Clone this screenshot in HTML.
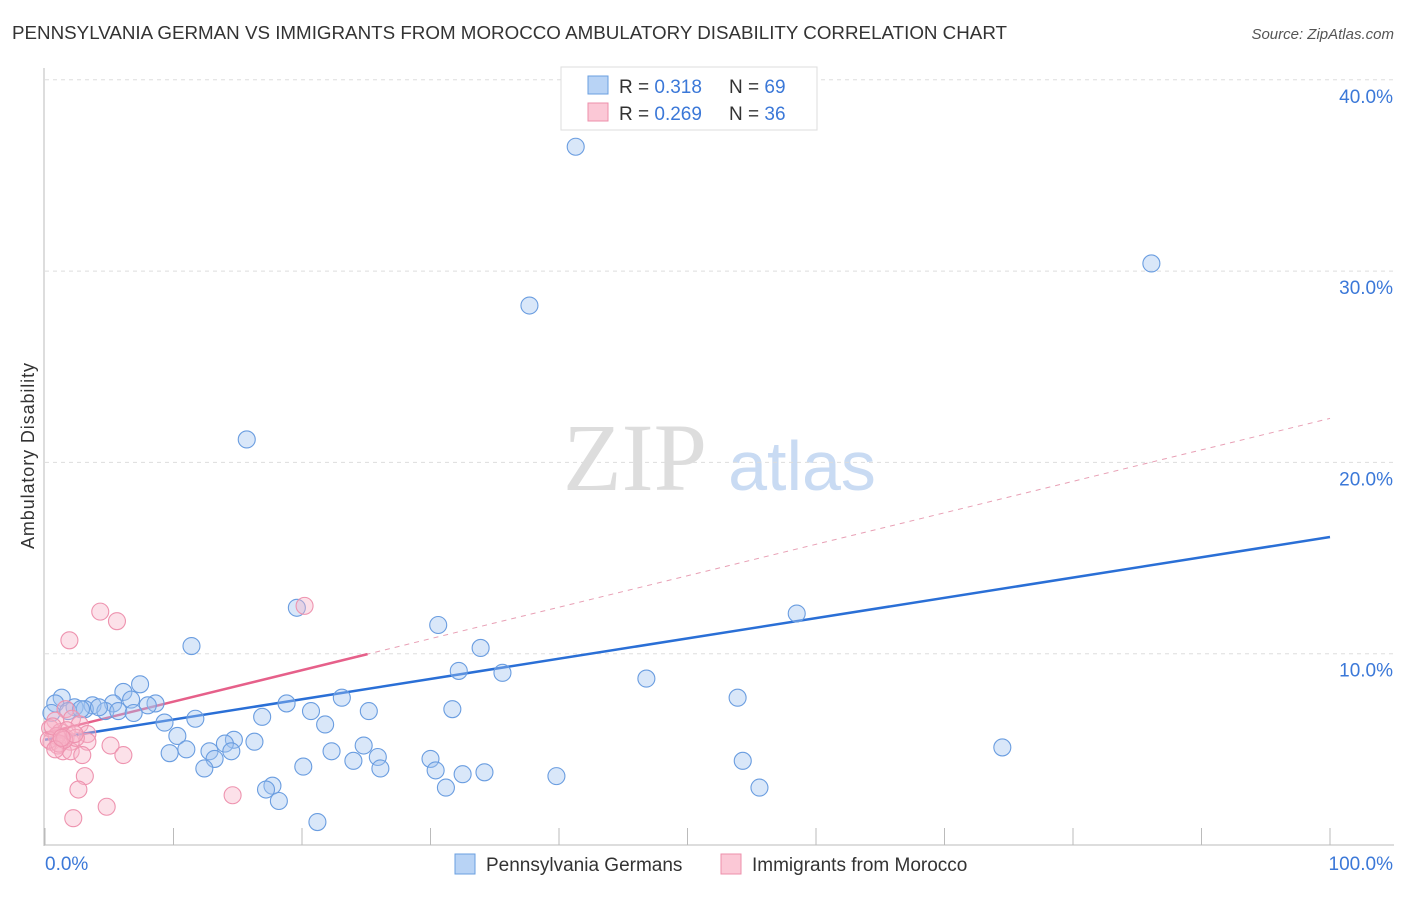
<!DOCTYPE html>
<html><head><meta charset="utf-8"><style>
body{margin:0;background:#fff;font-family:"Liberation Sans",sans-serif;}
svg text{font-family:"Liberation Sans",sans-serif;}
</style></head><body>
<svg width="1406" height="892" id="c">
<text x="12" y="39" font-size="18" fill="#333" textLength="995" lengthAdjust="spacingAndGlyphs">PENNSYLVANIA GERMAN VS IMMIGRANTS FROM MOROCCO AMBULATORY DISABILITY CORRELATION CHART</text>
<text x="1394" y="39" font-size="15" fill="#555" font-style="italic" text-anchor="end">Source: ZipAtlas.com</text>
<text x="635" y="490" font-size="96" fill="#ddd" style="font-family:'Liberation Serif',serif" text-anchor="middle">ZIP</text>
<text x="802" y="490" font-size="70" fill="#c9dbf3" text-anchor="middle">atlas</text>
<g id="grid"></g>
<line x1="44" y1="68" x2="44" y2="846" stroke="#bbb"/>
<line x1="44" y1="845" x2="1394" y2="845" stroke="#bbb"/>
<text x="34" y="456" font-size="18" fill="#333" text-anchor="middle" transform="rotate(-90 34 456)" textLength="186">Ambulatory Disability</text>
<text x="45" y="870" font-size="19" fill="#3b78d8">0.0%</text>
<text x="1393" y="870" font-size="19" fill="#3b78d8" text-anchor="end">100.0%</text>
<g id="lines"></g>
<g id="pts"></g>
<g>
<rect x="561" y="67" width="256" height="63" fill="#fff" stroke="#ddd"/>
<rect x="588" y="76" width="20" height="18" fill="#b8d3f5" stroke="#6a9fe0"/>
<rect x="588" y="103" width="20" height="18" fill="#fbc8d6" stroke="#ee8fab"/>
<text x="619" y="93" font-size="19" fill="#333">R = <tspan fill="#3b78d8">0.318</tspan><tspan x="729">N = </tspan><tspan fill="#3b78d8">69</tspan></text>
<text x="619" y="120" font-size="19" fill="#333">R = <tspan fill="#3b78d8">0.269</tspan><tspan x="729">N = </tspan><tspan fill="#3b78d8">36</tspan></text>
</g>
<g>
<rect x="455" y="854" width="20" height="20" fill="#b8d3f5" stroke="#6a9fe0"/>
<text x="486" y="871" font-size="19" fill="#333">Pennsylvania Germans</text>
<rect x="721" y="854" width="20" height="20" fill="#fbc8d6" stroke="#ee8fab"/>
<text x="752" y="871" font-size="19" fill="#333">Immigrants from Morocco</text>
</g>
</svg>
<script>
const yTicks=[10,20,30,40];
const yTickLabels=["10.0%","20.0%","30.0%","40.0%"];
const xTicks=[0,10,20,30,40,50,60,70,80,90,100];
const blueX=[41.3,86.1,37.7,15.7,19.6,58.5,30.6,11.4,33.9,32.2,35.6,46.8,7.4,6.1,53.9,1.3,0.8,18.8,23.1,6.7,8.6,3.7,5.3,2.3,3.1,4.7,5.7,8.0,20.7,25.2,31.7,16.9,11.7,9.3,21.8,10.3,14.7,16.3,14.0,24.8,11.0,12.8,14.5,22.3,9.7,13.2,24.0,25.9,30.0,74.5,54.3,12.4,20.1,26.1,30.4,32.5,34.2,39.8,17.7,17.2,31.2,55.6,18.2,21.2,0.5,1.8,2.8,4.2,6.9];
const blueY=[36.5,30.4,28.2,21.2,12.4,12.1,11.5,10.4,10.3,9.1,9.0,8.7,8.4,8.0,7.7,7.7,7.4,7.4,7.7,7.6,7.4,7.3,7.4,7.2,7.1,7.0,7.0,7.3,7.0,7.0,7.1,6.7,6.6,6.4,6.3,5.7,5.5,5.4,5.3,5.2,5.0,4.9,4.9,4.9,4.8,4.5,4.4,4.6,4.5,5.1,4.4,4.0,4.1,4.0,3.9,3.7,3.8,3.6,3.1,2.9,3.0,3.0,2.3,1.2,6.9,7.0,7.1,7.2,6.9];
const pinkX=[20.2,4.3,5.6,1.9,1.6,2.1,0.8,2.7,0.4,1.2,3.3,1.6,0.5,2.0,1.0,3.3,5.1,1.4,2.0,2.9,6.1,3.1,2.6,4.8,14.6,2.2,1.7,0.9,0.3,1.1,2.4,0.6,1.5,2.3,0.8,1.3];
const pinkY=[12.5,12.2,11.7,10.7,7.1,6.6,6.5,6.3,6.1,5.9,5.8,5.6,5.4,5.4,5.2,5.4,5.2,4.9,4.9,4.7,4.7,3.6,2.9,2.0,2.6,1.4,6.0,5.7,5.5,5.3,5.6,6.2,5.5,5.8,5.0,5.6];
const blueTrend=[5.5,16.1];
const pinkTrend=[5.85,22.3];
const pinkSolidEnd=25.1;
const NS="http://www.w3.org/2000/svg";
const X=v=>45+v*12.85, Y=v=>845-v*19.13;
function mk(t,a,p){const e=document.createElementNS(NS,t);for(const k in a)e.setAttribute(k,a[k]);document.getElementById(p).appendChild(e);return e;}
yTicks.forEach((t,i)=>{
 const l=mk('line',{x1:45,x2:1394,y1:Y(t),y2:Y(t),stroke:'#ddd','stroke-dasharray':'4,4'},'grid');
 
 
 const tx=mk('text',{x:1393,y:Y(t)+23,'font-size':19,fill:'#3b78d8','text-anchor':'end'},'grid');
 tx.textContent=yTickLabels[i];
 
 
});
xTicks.forEach(t=>{
 const l=mk('line',{x1:X(t),x2:X(t),y1:828,y2:845,stroke:'#bbb'},'grid');
 
 
});
function pts(xs,ys,f,s,n){xs.forEach((x,i)=>{const c=mk('circle',{cx:X(x),cy:Y(ys[i]),r:8.5,fill:f,stroke:s,'stroke-width':1.1},'pts');
 
 });}
pts(blueX,blueY,'rgba(160,195,240,0.4)','#6a9de0','point-pennsylvania-germans');
pts(pinkX,pinkY,'rgba(248,180,200,0.4)','#ee93af','point-immigrants-morocco');
const yAt=(tr,x)=>tr[0]+(tr[1]-tr[0])*x/100;
let l=mk('line',{x1:X(0),y1:Y(pinkTrend[0]),x2:X(100),y2:Y(pinkTrend[1]),stroke:'#e8a0b5','stroke-width':1,'stroke-dasharray':'5,5'},'lines');


l=mk('line',{x1:X(0),y1:Y(blueTrend[0]),x2:X(100),y2:Y(blueTrend[1]),stroke:'#2a6fd6','stroke-width':2.5},'lines');


l=mk('line',{x1:X(0),y1:Y(pinkTrend[0]),x2:X(pinkSolidEnd),y2:Y(yAt(pinkTrend,pinkSolidEnd)),stroke:'#e6608a','stroke-width':2.5},'lines');


</script>
</body></html>
